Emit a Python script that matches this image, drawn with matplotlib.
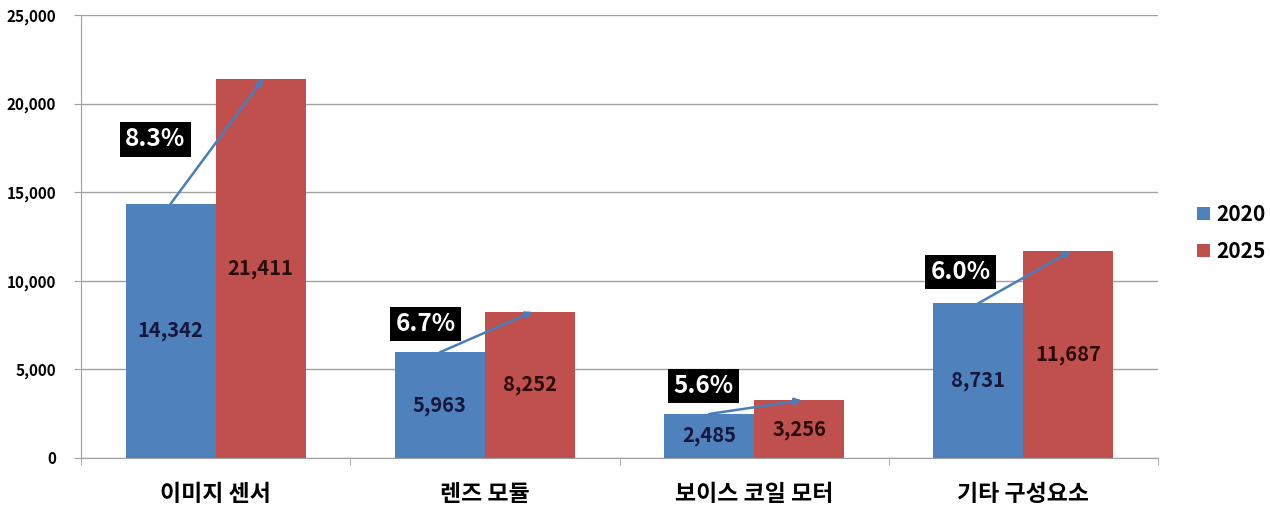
import matplotlib
matplotlib.use("Agg")
import matplotlib.pyplot as plt
import numpy as np

categories = ["이미지 센서", "렌즈 모듈", "보이스 코일 모터", "기타 구성요소"]
values_2020 = [14342, 5963, 2485, 8731]
values_2025 = [21411, 8252, 3256, 11687]
growth_labels = ["8.3%", "6.7%", "5.6%", "6.0%"]
series_names = ["2020", "2025"]
yticks = [0, 5000, 10000, 15000, 20000, 25000]

# layout (style) for growth label boxes
label_dx = [-0.225, -0.221, -0.188, -0.234]
label_dy = [3650, 1600, 1580, 1770]

plt.rcParams['font.family'] = ['Noto Sans CJK KR', 'DejaVu Sans']

BLUE = "#4F81BD"
RED = "#C0504D"

fig = plt.figure(figsize=(12.7, 5.07), dpi=100)
ax = fig.add_axes([81/1270, 1 - 458/507, (1158-81)/1270, (458-15)/507])

x = np.arange(len(categories))
w = 90/269
b1 = ax.bar(x - w/2, values_2020, w, color=BLUE, label=series_names[0], zorder=2)
b2 = ax.bar(x + w/2, values_2025, w, color=RED, label=series_names[1], zorder=2)

ax.bar_label(b1, labels=[f"{v:,}" for v in values_2020], label_type='center',
             fontsize=14.5, fontweight='bold', color='#16163a')
ax.bar_label(b2, labels=[f"{v:,}" for v in values_2025], label_type='center',
             fontsize=14.5, fontweight='bold', color='#2a0c0c')

for i in range(len(categories)):
    ax.annotate("", xy=(x[i] + w/2 + 0.01, values_2025[i]),
                xytext=(x[i] - w/2, values_2020[i]),
                arrowprops=dict(arrowstyle='-|>', color='#4A7EBB', lw=1.8,
                                mutation_scale=10, shrinkA=0, shrinkB=0),
                zorder=4)
    ax.text(x[i] + label_dx[i], values_2020[i] + label_dy[i], growth_labels[i],
            ha='center', va='center', fontsize=17.5, fontweight='bold', color='white',
            bbox=dict(boxstyle='square,pad=0.22', facecolor='black', edgecolor='none'),
            zorder=5)

ax.set_xlim(-0.5, len(categories) - 0.5)
ax.set_ylim(0, 25000)
ax.set_yticks(yticks)
ax.set_yticklabels([f"{t:,}" for t in yticks], fontsize=11, fontweight='bold')
ax.yaxis.grid(True, color='#A0A0A0', lw=1, zorder=0)
ax.set_axisbelow(True)

ax.set_xticks(x)
ax.set_xticklabels(categories, fontsize=16.5, fontweight='bold')
ax.tick_params(axis='x', length=0, pad=18)
ax.set_xticks(np.arange(-0.5, len(categories), 1), minor=True)
ax.tick_params(axis='x', which='minor', length=5, color='#A0A0A0', direction='out')
ax.tick_params(axis='y', length=5, color='#A0A0A0', pad=13)

for s in ['top', 'right']:
    ax.spines[s].set_visible(False)
for s in ['left', 'bottom']:
    ax.spines[s].set_color('#A0A0A0')

leg = fig.legend(handles=[b1, b2], labels=series_names, loc='upper left',
                 bbox_to_anchor=(1197/1270, 1 - 204/507), frameon=False,
                 borderaxespad=0, borderpad=0,
                 prop={'size': 15, 'weight': 'bold'}, handlelength=0.6, handleheight=0.6,
                 handletextpad=0.35, labelspacing=0.75)

fig.savefig("out.png", dpi=100)
